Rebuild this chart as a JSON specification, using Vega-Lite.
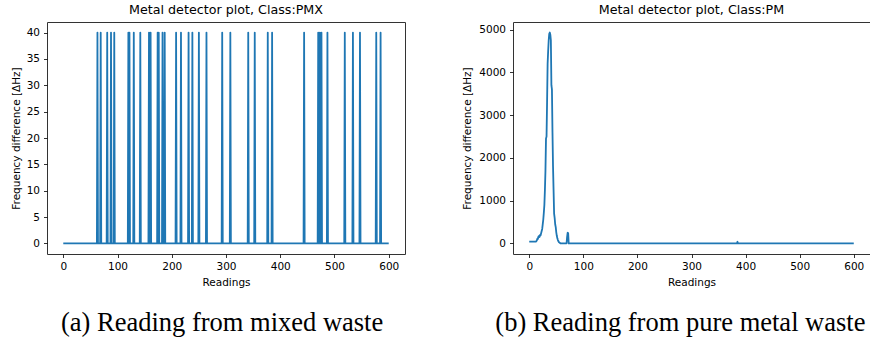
{
  "$schema": "https://vega.github.io/schema/vega-lite/v6.json",
  "background": "white",
  "padding": {"left": 10, "top": 3, "right": 0, "bottom": 0},
  "config": {
    "font": "DejaVu Sans",
    "view": {"stroke": "#333333", "strokeWidth": 1},
    "axis": {
      "grid": false,
      "domain": false,
      "tickColor": "black",
      "tickSize": 3.5,
      "tickWidth": 0.8,
      "labelFont": "DejaVu Sans",
      "labelFontSize": 10.5,
      "labelColor": "black",
      "labelPadding": 4,
      "titleFont": "DejaVu Sans",
      "titleFontSize": 10.5,
      "titleFontWeight": "normal",
      "titleColor": "black"
    },
    "concat": {"spacing": 56}
  },
  "datasets": {
    "pmx": [
      {"reading": 0, "freq": 0},
      {"reading": 62, "freq": 0}, {"reading": 63, "freq": 40}, {"reading": 64, "freq": 0},
      {"reading": 68, "freq": 0}, {"reading": 69, "freq": 40}, {"reading": 70, "freq": 0},
      {"reading": 80, "freq": 0}, {"reading": 81, "freq": 40}, {"reading": 82, "freq": 0},
      {"reading": 87, "freq": 0}, {"reading": 88, "freq": 40}, {"reading": 89, "freq": 0},
      {"reading": 93, "freq": 0}, {"reading": 94, "freq": 40}, {"reading": 95, "freq": 0},
      {"reading": 119, "freq": 0}, {"reading": 120, "freq": 40}, {"reading": 121, "freq": 0}, {"reading": 122, "freq": 40}, {"reading": 123, "freq": 0},
      {"reading": 129, "freq": 0}, {"reading": 130, "freq": 40}, {"reading": 131, "freq": 0},
      {"reading": 141, "freq": 0}, {"reading": 142, "freq": 40}, {"reading": 143, "freq": 0},
      {"reading": 157, "freq": 0}, {"reading": 158, "freq": 40}, {"reading": 159, "freq": 0},
      {"reading": 160, "freq": 0}, {"reading": 161, "freq": 40}, {"reading": 162, "freq": 0},
      {"reading": 173, "freq": 0}, {"reading": 174, "freq": 40}, {"reading": 175, "freq": 0}, {"reading": 176, "freq": 40}, {"reading": 177, "freq": 0},
      {"reading": 182, "freq": 0}, {"reading": 183, "freq": 40}, {"reading": 184, "freq": 0},
      {"reading": 186, "freq": 0}, {"reading": 187, "freq": 40}, {"reading": 188, "freq": 0},
      {"reading": 207, "freq": 0}, {"reading": 208, "freq": 40}, {"reading": 209, "freq": 0},
      {"reading": 216, "freq": 0}, {"reading": 217, "freq": 40}, {"reading": 218, "freq": 0},
      {"reading": 230, "freq": 0}, {"reading": 231, "freq": 40}, {"reading": 232, "freq": 0},
      {"reading": 237, "freq": 0}, {"reading": 238, "freq": 40}, {"reading": 239, "freq": 0},
      {"reading": 249, "freq": 0}, {"reading": 250, "freq": 40}, {"reading": 251, "freq": 0},
      {"reading": 263, "freq": 0}, {"reading": 264, "freq": 40}, {"reading": 265, "freq": 0},
      {"reading": 292, "freq": 0}, {"reading": 293, "freq": 40}, {"reading": 294, "freq": 0},
      {"reading": 307, "freq": 0}, {"reading": 308, "freq": 40}, {"reading": 309, "freq": 0},
      {"reading": 340, "freq": 0}, {"reading": 341, "freq": 40}, {"reading": 342, "freq": 0},
      {"reading": 352, "freq": 0}, {"reading": 353, "freq": 40}, {"reading": 354, "freq": 0},
      {"reading": 376, "freq": 0}, {"reading": 377, "freq": 40}, {"reading": 378, "freq": 0},
      {"reading": 384, "freq": 0}, {"reading": 385, "freq": 40}, {"reading": 386, "freq": 0},
      {"reading": 443, "freq": 0}, {"reading": 444, "freq": 40}, {"reading": 445, "freq": 0},
      {"reading": 469, "freq": 0}, {"reading": 470, "freq": 40}, {"reading": 471, "freq": 0},
      {"reading": 472, "freq": 0}, {"reading": 473, "freq": 40}, {"reading": 474, "freq": 0},
      {"reading": 475, "freq": 0}, {"reading": 476, "freq": 40}, {"reading": 477, "freq": 0},
      {"reading": 486, "freq": 0}, {"reading": 487, "freq": 40}, {"reading": 488, "freq": 0},
      {"reading": 518, "freq": 0}, {"reading": 519, "freq": 40}, {"reading": 520, "freq": 0},
      {"reading": 533, "freq": 0}, {"reading": 534, "freq": 40}, {"reading": 535, "freq": 0},
      {"reading": 546, "freq": 0}, {"reading": 547, "freq": 40}, {"reading": 548, "freq": 0},
      {"reading": 576, "freq": 0}, {"reading": 577, "freq": 40}, {"reading": 578, "freq": 0},
      {"reading": 584, "freq": 0}, {"reading": 585, "freq": 40}, {"reading": 586, "freq": 0},
      {"reading": 600, "freq": 0}
    ],
    "pm": [
      {"reading": 0, "freq": 45}, {"reading": 12, "freq": 45}, {"reading": 13, "freq": 50},
      {"reading": 14, "freq": 70}, {"reading": 15, "freq": 110}, {"reading": 16, "freq": 105},
      {"reading": 17, "freq": 160}, {"reading": 18, "freq": 175}, {"reading": 19, "freq": 150},
      {"reading": 20, "freq": 200}, {"reading": 21, "freq": 190}, {"reading": 22, "freq": 240},
      {"reading": 23, "freq": 290}, {"reading": 24, "freq": 340}, {"reading": 25, "freq": 450},
      {"reading": 26, "freq": 560}, {"reading": 27, "freq": 720}, {"reading": 28, "freq": 900},
      {"reading": 29, "freq": 1250}, {"reading": 30, "freq": 1700}, {"reading": 31, "freq": 2450},
      {"reading": 32, "freq": 2500}, {"reading": 33, "freq": 3300}, {"reading": 34, "freq": 4200},
      {"reading": 35, "freq": 4500}, {"reading": 36, "freq": 4750}, {"reading": 37, "freq": 4900},
      {"reading": 38, "freq": 4930}, {"reading": 39, "freq": 4880}, {"reading": 40, "freq": 4750},
      {"reading": 41, "freq": 3700}, {"reading": 42, "freq": 3600}, {"reading": 43, "freq": 2600},
      {"reading": 44, "freq": 1800}, {"reading": 45, "freq": 1250}, {"reading": 46, "freq": 700},
      {"reading": 47, "freq": 600}, {"reading": 48, "freq": 450}, {"reading": 49, "freq": 380},
      {"reading": 50, "freq": 260}, {"reading": 51, "freq": 180}, {"reading": 52, "freq": 120},
      {"reading": 53, "freq": 80}, {"reading": 54, "freq": 50}, {"reading": 55, "freq": 30},
      {"reading": 56, "freq": 20}, {"reading": 57, "freq": 10}, {"reading": 58, "freq": 0},
      {"reading": 69, "freq": 0}, {"reading": 70, "freq": 150}, {"reading": 71, "freq": 250},
      {"reading": 72, "freq": 240}, {"reading": 73, "freq": 0},
      {"reading": 384, "freq": 0}, {"reading": 385, "freq": 40}, {"reading": 386, "freq": 0},
      {"reading": 600, "freq": 0}
    ]
  },
  "hconcat": [
    {
      "title": {"text": "(a) Reading from mixed waste", "orient": "bottom", "anchor": "middle", "frame": "bounds", "dx": 14, "offset": 22, "font": "Liberation Serif", "fontSize": 26.5, "fontWeight": "normal", "color": "black"},
      "vconcat": [
        {
          "width": 358,
          "height": 232,
          "title": {"text": "Metal detector plot, Class:PMX", "anchor": "middle", "frame": "group", "offset": 5, "font": "DejaVu Sans", "fontSize": 12.7, "fontWeight": "normal", "color": "black"},
          "data": {"name": "pmx"},
          "mark": {"type": "line", "color": "#1f77b4", "strokeWidth": 1.8, "strokeJoin": "round"},
          "encoding": {
            "x": {"field": "reading", "type": "quantitative", "scale": {"domain": [-30, 630], "nice": false, "zero": false}, "axis": {"title": "Readings", "values": [0, 100, 200, 300, 400, 500, 600], "format": "d", "titlePadding": 5}},
            "y": {"field": "freq", "type": "quantitative", "scale": {"domain": [-2, 42], "nice": false, "zero": false}, "axis": {"title": "Frequency difference [ΔHz]", "values": [0, 5, 10, 15, 20, 25, 30, 35, 40], "format": "d", "titlePadding": 5}}
          }
        }
      ]
    },
    {
      "title": {"text": "(b) Reading from pure metal waste", "orient": "bottom", "anchor": "middle", "frame": "bounds", "dx": 14, "offset": 22, "font": "Liberation Serif", "fontSize": 26.5, "fontWeight": "normal", "color": "black"},
      "vconcat": [
        {
          "width": 357,
          "height": 232,
          "title": {"text": "Metal detector plot, Class:PM", "anchor": "middle", "frame": "group", "offset": 5, "font": "DejaVu Sans", "fontSize": 12.7, "fontWeight": "normal", "color": "black"},
          "data": {"name": "pm"},
          "mark": {"type": "line", "color": "#1f77b4", "strokeWidth": 1.8, "strokeJoin": "round"},
          "encoding": {
            "x": {"field": "reading", "type": "quantitative", "scale": {"domain": [-30, 630], "nice": false, "zero": false}, "axis": {"title": "Readings", "values": [0, 100, 200, 300, 400, 500, 600], "format": "d", "titlePadding": 5}},
            "y": {"field": "freq", "type": "quantitative", "scale": {"domain": [-246, 5176], "nice": false, "zero": false}, "axis": {"title": "Frequency difference [ΔHz]", "values": [0, 1000, 2000, 3000, 4000, 5000], "format": "d", "titlePadding": 6}}
          }
        }
      ]
    }
  ]
}
